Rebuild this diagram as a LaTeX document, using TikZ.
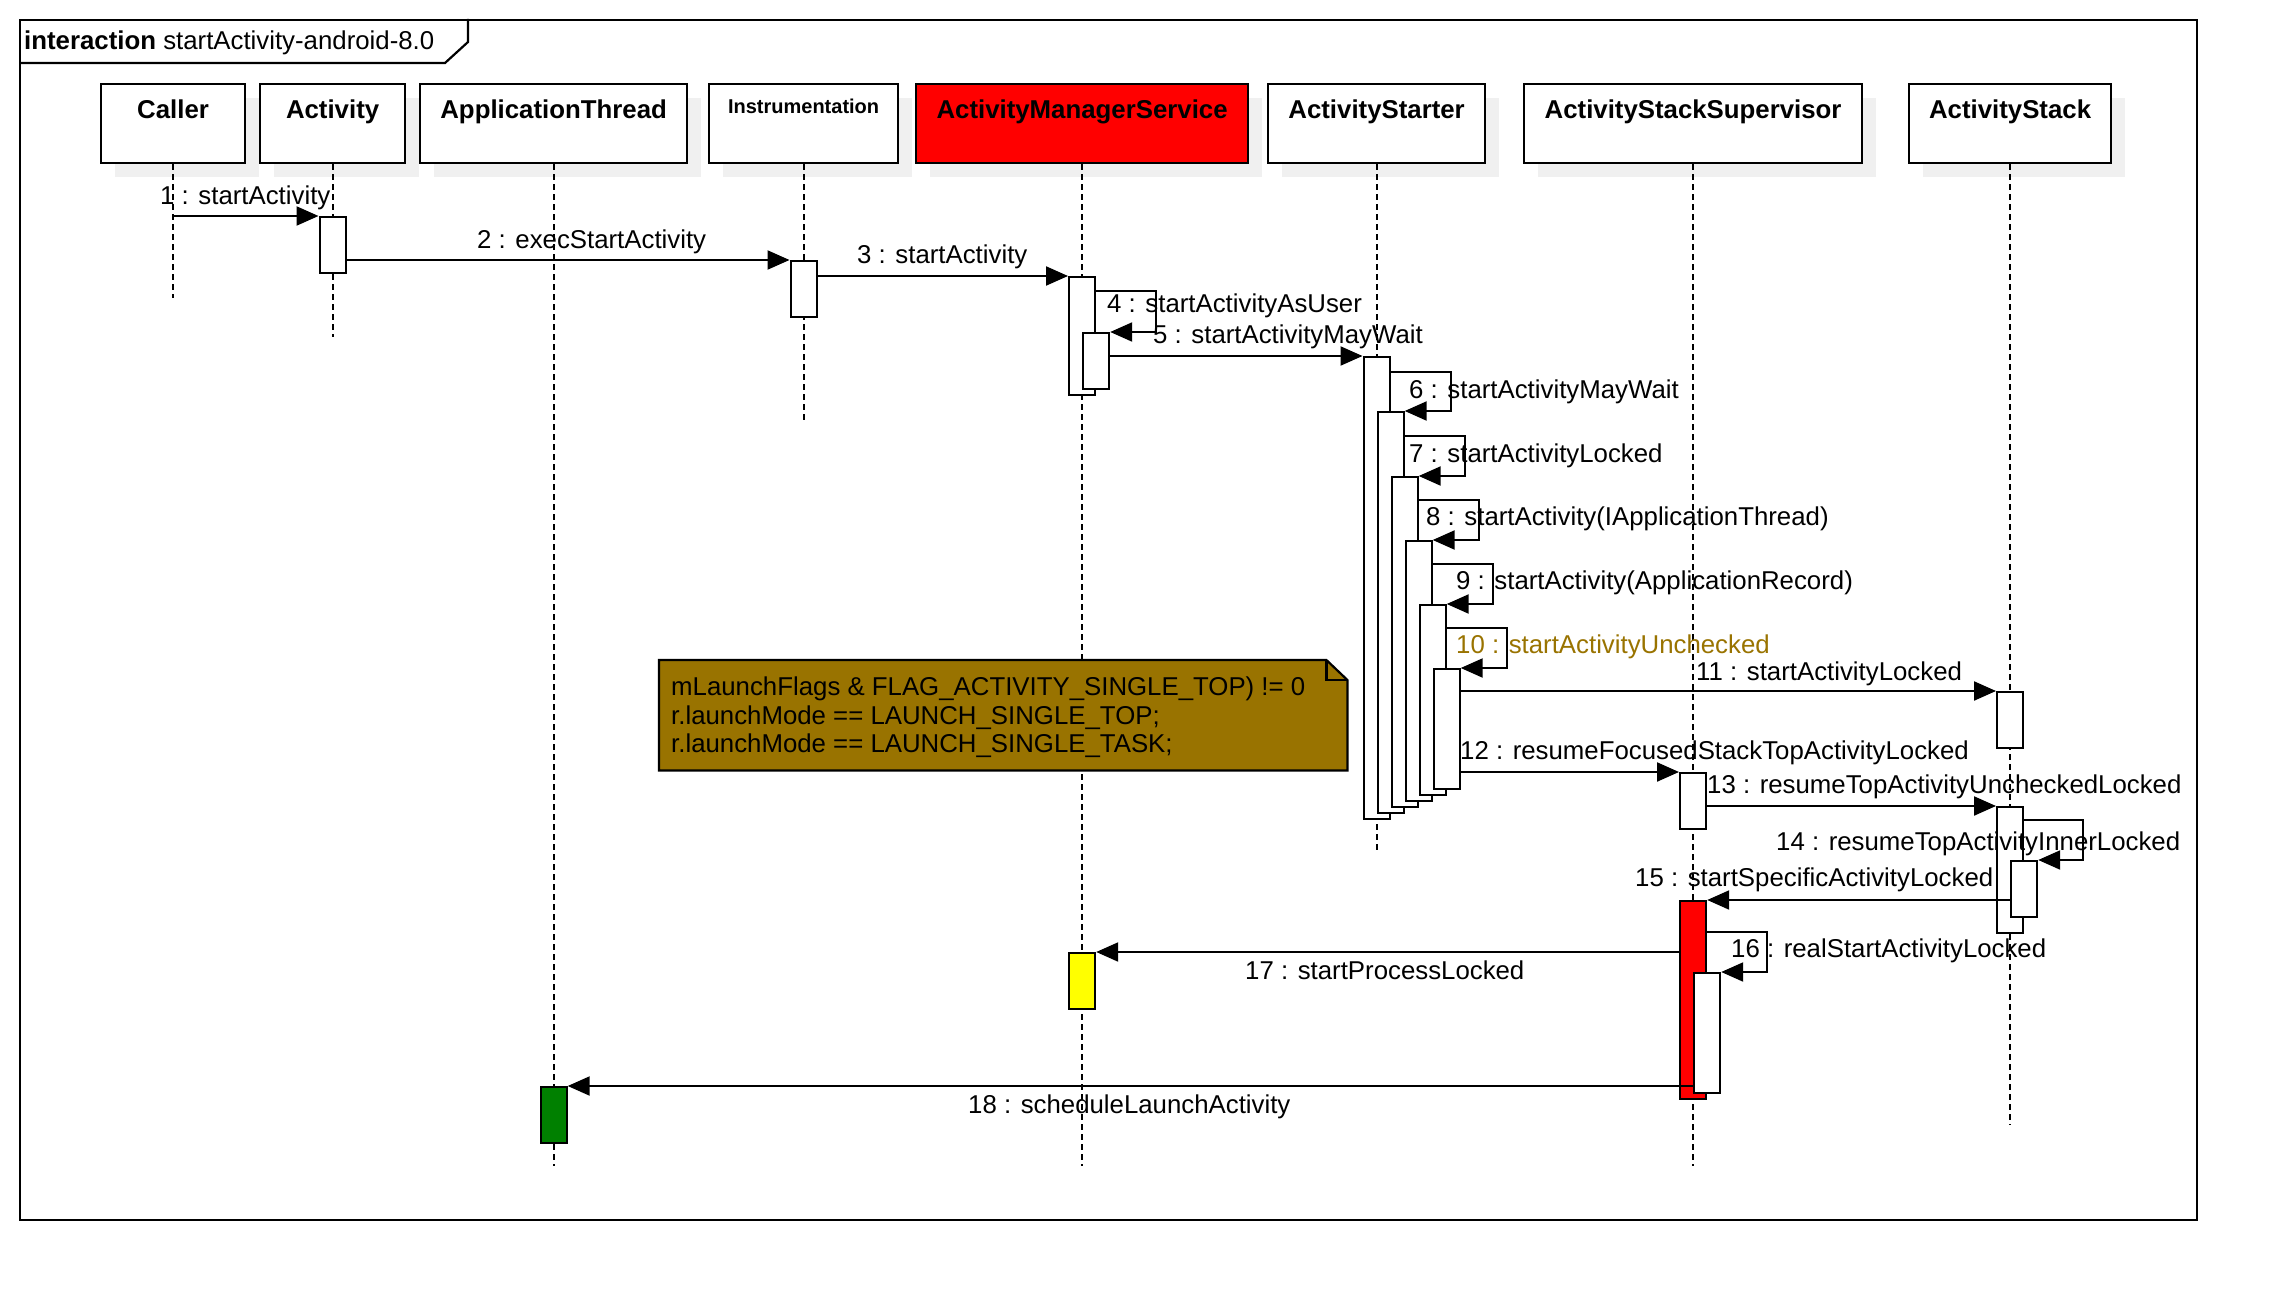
\documentclass[tikz,border=0pt]{standalone}
\usepackage{fontspec}
\setmainfont{Liberation Sans}
\usetikzlibrary{arrows.meta,calc,shadows}

\definecolor{notebrown}{HTML}{997300}
\definecolor{headshadow}{HTML}{F0F0F0}
\definecolor{amsred}{HTML}{FF0000}
\definecolor{procyellow}{HTML}{FFFF00}
\definecolor{launchgreen}{HTML}{008000}

\begin{document}
\begin{tikzpicture}[x=1pt,y=-1pt,
  font=\fontsize{25.8pt}{30pt}\selectfont,
  head/.style={draw, line width=2.2pt, fill=white, minimum height=79pt,
    anchor=north west, inner sep=0pt,
    drop shadow={shadow xshift=14pt, shadow yshift=-14pt, fill=headshadow, opacity=1}},
  headtitle/.style={anchor=base, inner sep=0pt, font=\fontsize{25.8pt}{30pt}\selectfont\bfseries},
  act/.style={draw, line width=2.2pt, fill=white, minimum width=26pt, anchor=north west, inner sep=0pt},
  lifeline/.style={line width=2pt, dash pattern=on 6pt off 4pt},
  msg/.style={line width=2.2pt, -{Triangle[length=22pt,width=19pt]}},
  lbl/.style={anchor=base west, inner sep=0pt},
]
\useasboundingbox (0,0) rectangle (2276,1300);

% interaction frame with its name tab
\node[draw, line width=2.2pt, minimum width=2177pt, minimum height=1200pt,
      anchor=north west, inner sep=0pt] (frame) at (19,19) {};
\draw[line width=2.2pt, line join=miter] ($(frame.north west)+(0,44)$) -- ++(426,0) -- ++(23,-21) -- ++(0,-23);
\node[lbl] (title) at (24,50) {\textbf{interaction} startActivity-android-8.0};

% lifeline heads
\node[head, minimum width=144pt] (caller) at (100,83) {};
\node[head, minimum width=145pt] (activity) at (259,83) {};
\node[head, minimum width=267pt] (appthread) at (419,83) {};
\node[head, minimum width=189pt] (instr) at (708,83) {};
\node[head, minimum width=332pt, fill=amsred] (ams) at (915,83) {};
\node[head, minimum width=217pt] (starter) at (1267,83) {};
\node[head, minimum width=338pt] (supervisor) at (1523,83) {};
\node[head, minimum width=202pt] (stack) at (1908,83) {};

\node[headtitle] (callerT) at ($(caller.north)+(0,36)$) {Caller};
\node[headtitle] (activityT) at ($(activity.north)+(0,36)$) {Activity};
\node[headtitle] (appthreadT) at ($(appthread.north)+(0,36)$) {ApplicationThread};
\node[headtitle, font=\fontsize{20pt}{24pt}\selectfont\bfseries] (instrT) at ($(instr.north)+(0,31)$) {Instrumentation};
\node[headtitle] (amsT) at ($(ams.north)+(0,36)$) {ActivityManagerService};
\node[headtitle] (starterT) at ($(starter.north)+(0,36)$) {ActivityStarter};
\node[headtitle] (supervisorT) at ($(supervisor.north)+(0,36)$) {ActivityStackSupervisor};
\node[headtitle] (stackT) at ($(stack.north)+(0,36)$) {ActivityStack};

% lifelines
\draw[lifeline] (caller.south) -- (caller.south |- 0,298);
\draw[lifeline] (activity.south) -- (activity.south |- 0,337);
\draw[lifeline] (appthread.south) -- (appthread.south |- 0,1166);
\draw[lifeline] (instr.south) -- (instr.south |- 0,421);
\draw[lifeline] (ams.south) -- (ams.south |- 0,1166);
\draw[lifeline] (starter.south) -- (starter.south |- 0,853);
\draw[lifeline] (supervisor.south) -- (supervisor.south |- 0,1166);
\draw[lifeline] (stack.south) -- (stack.south |- 0,1125);

% activations
\node[act, minimum height=56pt] (actA) at (318.5,216) {};
\node[act, minimum height=56pt] (actI) at (789.5,260) {};
\node[act, minimum height=118pt] (ams1) at (1068,276) {};
\node[act, minimum height=56pt] (ams2) at (1082,332) {};
\node[act, minimum height=56pt, fill=procyellow] (ams3) at (1068,952) {};
\node[act, minimum height=462pt] (as1) at (1362.5,356) {};
\node[act, minimum height=401pt] (as2) at (1376.5,411) {};
\node[act, minimum height=330pt] (as3) at (1390.5,476) {};
\node[act, minimum height=260pt] (as4) at (1404.5,540) {};
\node[act, minimum height=190pt] (as5) at (1418.5,604) {};
\node[act, minimum height=120pt] (as6) at (1432.5,668) {};
\node[act, minimum height=56pt] (stk1) at (1996,691) {};
\node[act, minimum height=126pt] (stk2) at (1996,806) {};
\node[act, minimum height=56pt] (stk3) at (2010,860) {};
\node[act, minimum height=56pt] (ass1) at (1679,772) {};
\node[act, minimum height=198pt, fill=amsred] (ass2) at (1679,900) {};
\node[act, minimum height=120pt] (ass3) at (1693,972) {};
\node[act, minimum height=56pt, fill=launchgreen] (appact) at (539.5,1086) {};

% messages
\draw[msg] (caller.south |- actA.north) -- (actA.north west);
\draw[msg] (actA.east |- actI.north) -- (actI.north west);
\draw[msg] (actI.east |- ams1.north) -- (ams1.north west);
\draw[msg] (ams1.east |- 0,291) -- ++(60,0) |- (ams2.north east);
\draw[msg] (ams2.east |- as1.north) -- (as1.north west);
\draw[msg] (as1.east |- 0,372) -- ++(60,0) |- (as2.north east);
\draw[msg] (as2.east |- 0,436) -- ++(60,0) |- (as3.north east);
\draw[msg] (as3.east |- 0,500) -- ++(60,0) |- (as4.north east);
\draw[msg] (as4.east |- 0,564) -- ++(60,0) |- (as5.north east);
\draw[msg] (as5.east |- 0,628) -- ++(60,0) |- (as6.north east);
\draw[msg] (as6.east |- stk1.north) -- (stk1.north west);
\draw[msg] (as6.east |- ass1.north) -- (ass1.north west);
\draw[msg] (ass1.east |- stk2.north) -- (stk2.north west);
\draw[msg] (stk2.east |- 0,820) -- ++(59,0) |- (stk3.north east);
\draw[msg] (stk3.west |- ass2.north) -- (ass2.north east);
\draw[msg] (ass2.east |- 0,932) -- ++(60,0) |- (ass3.north east);
\draw[msg] (ass2.west |- ams3.north) -- (ams3.north east);
\draw[msg] (ass3.west |- appact.north) -- (appact.north east);

% note on launch modes
\node[minimum width=688pt, minimum height=110pt, anchor=north west, inner sep=0pt] (note) at (659,660) {};
\filldraw[fill=notebrown, line width=2.2pt, line join=miter]
  (note.north west) -- ($(note.north east)+(-21,0)$) -- ($(note.north east)+(0,20)$)
  -- (note.south east) -- (note.south west) -- cycle;
\draw[line width=2.2pt] ($(note.north east)+(-21,0)$) |- ($(note.north east)+(0,20)$);
\node[lbl] (noteA) at (671,695) {mLaunchFlags \& FLAG\_ACTIVITY\_SINGLE\_TOP) != 0};
\node[lbl] (noteB) at (671,724) {r.launchMode == LAUNCH\_SINGLE\_TOP;};
\node[lbl] (noteC) at (671,752) {r.launchMode == LAUNCH\_SINGLE\_TASK;};

% message labels
\node[lbl] (m1) at (160,205) {1 : startActivity};
\node[lbl] (m2) at (477,248) {2 : execStartActivity};
\node[lbl] (m3) at (857,264) {3 : startActivity};
\node[lbl] (m4) at (1107,312) {4 : startActivityAsUser};
\node[lbl] (m5) at (1153,343) {5 : startActivityMayWait};
\node[lbl] (m6) at (1409,398) {6 : startActivityMayWait};
\node[lbl] (m7) at (1409,462) {7 : startActivityLocked};
\node[lbl] (m8) at (1426,525) {8 : startActivity(IApplicationThread)};
\node[lbl] (m9) at (1456,589) {9 : startActivity(ApplicationRecord)};
\node[lbl, text=notebrown] (m10) at (1456,653) {10 : startActivityUnchecked};
\node[lbl] (m11) at (1696,680) {11 : startActivityLocked};
\node[lbl] (m12) at (1460,759) {12 : resumeFocusedStackTopActivityLocked};
\node[lbl] (m13) at (1707,793) {13 : resumeTopActivityUncheckedLocked};
\node[lbl] (m14) at (1776,850) {14 : resumeTopActivityInnerLocked};
\node[lbl] (m15) at (1635,886) {15 : startSpecificActivityLocked};
\node[lbl] (m16) at (1731,957) {16 : realStartActivityLocked};
\node[lbl] (m17) at (1245,979) {17 : startProcessLocked};
\node[lbl] (m18) at (968,1113) {18 : scheduleLaunchActivity};
\end{tikzpicture}
\end{document}
